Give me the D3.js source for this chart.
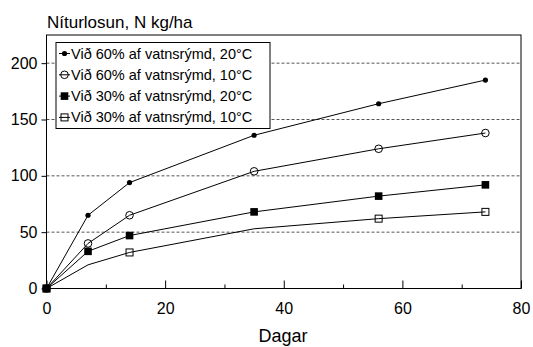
<!DOCTYPE html>
<html>
<head>
<meta charset="utf-8">
<script src="https://cdn.jsdelivr.net/npm/d3@7"></script>
<style>
  body { margin: 0; background: #fff; }
  svg text { font-family: "Liberation Sans", Arial, sans-serif; fill: #000; }
</style>
</head>
<body>
<div id="chart"></div>
<script>
var days = [0, 7, 14, 35, 56, 74];
var s60w = [0, 65, 94, 136, 164, 185];   // 60%, 20°C
var s60c = [0, 40, 65, 104, 124, 138];   // 60%, 10°C
var s30w = [0, 33, 47, 68, 82, 92];      // 30%, 20°C
var s30c = [0, 21, 32, 53, 62, 68];      // 30%, 10°C
var s30cMarked = [true, false, true, false, true, true];
var labels = ["Við 60% af vatnsrýmd, 20°C", "Við 60% af vatnsrýmd, 10°C",
              "Við 30% af vatnsrýmd, 20°C", "Við 30% af vatnsrýmd, 10°C"];
var yTicks = [0, 50, 100, 150, 200];
var xTicks = [0, 20, 40, 60, 80];

var series = [
    {values: s60w, marker: "dot", name: labels[0]},
    {values: s60c, marker: "ocircle", name: labels[1]},
    {values: s30w, marker: "fsquare", name: labels[2]},
    {values: s30c, marker: "osquare", name: labels[3], marked: s30cMarked}
];

var svg = d3.select("#chart").append("svg")
    .attr("width", 533)
    .attr("height", 347);

var x = d3.scaleLinear().domain([0, 80]).range([46.5, 521]);
var y = d3.scaleLinear().domain([0, 225]).range([288.5, 35]);

// dashed grid
svg.selectAll("line.grid")
    .data(yTicks.filter((d) => d > 0))
    .enter().append("line")
    .attr("x1", x(0)).attr("x2", x(80))
    .attr("y1", (d) => y(d)).attr("y2", (d) => y(d))
    .attr("stroke", "#555").attr("stroke-width", 1)
    .attr("stroke-dasharray", "3,2");

// frame
svg.append("rect")
    .attr("x", x(0)).attr("y", y(225))
    .attr("width", x(80) - x(0)).attr("height", y(0) - y(225))
    .attr("fill", "none").attr("stroke", "#000").attr("stroke-width", 1);

// y axis
var yAxis = d3.axisLeft(y).tickValues(yTicks).tickSize(5).tickPadding(4);
var gy = svg.append("g").attr("transform", "translate(" + x(0) + ",0)").call(yAxis);
gy.select(".domain").remove();
gy.selectAll("text").style("font-size", "16px");

// x axis, ticks pointing inside
var xAxis = d3.axisBottom(x).tickValues(d3.range(0, 81, 10))
    .tickSize(-8).tickPadding(14)
    .tickFormat((d) => xTicks.indexOf(d) >= 0 ? d : "");
var gx = svg.append("g").attr("transform", "translate(0," + y(0) + ")").call(xAxis);
gx.select(".domain").remove();
gx.selectAll(".tick line").attr("y2", (d) => xTicks.indexOf(d) >= 0 ? -8 : -4);
gx.selectAll("text").style("font-size", "16px");

svg.append("text").attr("x", 47).attr("y", 28)
    .style("font-size", "17px").text("Níturlosun, N kg/ha");
svg.append("text").attr("x", 283).attr("y", 342)
    .attr("text-anchor", "middle")
    .style("font-size", "18px").text("Dagar");

function drawMarker(g, type, cx, cy) {
    if (type == "dot") {
        g.append("circle").attr("cx", cx).attr("cy", cy).attr("r", 2.6).attr("fill", "#000");
    } else if (type == "ocircle") {
        g.append("circle").attr("cx", cx).attr("cy", cy).attr("r", 3.8)
            .attr("fill", "none").attr("stroke", "#000").attr("stroke-width", 1);
    } else if (type == "fsquare") {
        g.append("rect").attr("x", cx - 3.8).attr("y", cy - 3.8)
            .attr("width", 7.6).attr("height", 7.6).attr("fill", "#000");
    } else {
        g.append("rect").attr("x", cx - 3.5).attr("y", cy - 3.5)
            .attr("width", 7).attr("height", 7)
            .attr("fill", "none").attr("stroke", "#000").attr("stroke-width", 1);
    }
}

var line = d3.line()
    .x((d, i) => x(days[i]))
    .y((d) => y(d));

var plot = svg.append("g");
series.forEach(function(s) {
    plot.append("path")
        .attr("d", line(s.values))
        .attr("fill", "none").attr("stroke", "#000").attr("stroke-width", 1);
});
series.forEach(function(s) {
    s.values.forEach(function(v, i) {
        if (s.marked && !s.marked[i]) return;
        drawMarker(plot, s.marker, x(days[i]), y(v));
    });
});

// legend
var leg = svg.append("g");
leg.append("rect")
    .attr("x", 56).attr("y", 42.5).attr("width", 214).attr("height", 86)
    .attr("fill", "#fff").attr("stroke", "#000").attr("stroke-width", 1);
series.forEach(function(s, i) {
    var ly = 53.5 + i * 21.3;
    leg.append("line")
        .attr("x1", 59).attr("x2", 70).attr("y1", ly).attr("y2", ly)
        .attr("stroke", "#000").attr("stroke-width", 1);
    drawMarker(leg, s.marker, 64.5, ly);
    leg.append("text").attr("x", 71).attr("y", ly + 5)
        .style("font-size", "14.5px").text(s.name);
});
</script>
</body>
</html>
